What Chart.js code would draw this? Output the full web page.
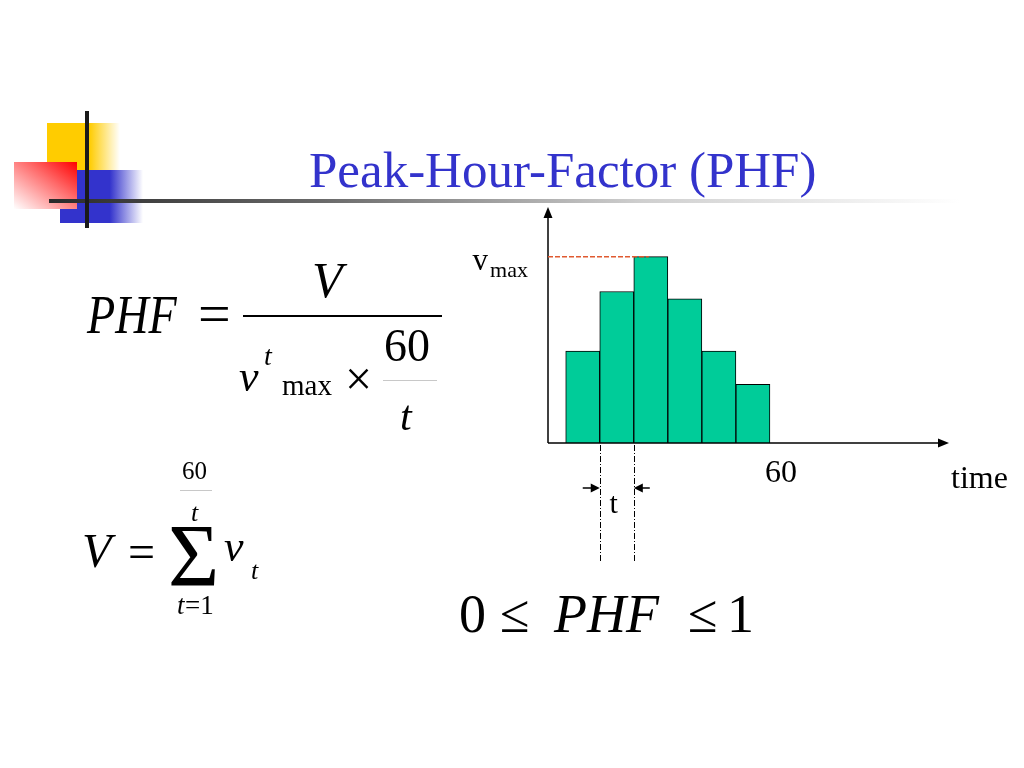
<!DOCTYPE html>
<html>
<head>
<meta charset="utf-8">
<script src="https://cdn.jsdelivr.net/npm/chart.js@4/dist/chart.umd.min.js"></script>
<style>
html,body{margin:0;padding:0;background:#fff;}
#slide{position:relative;width:1024px;height:768px;overflow:hidden;background:#fff;font-family:'Liberation Serif','Times New Roman',serif;color:#000;}
#slide .tx{position:absolute;white-space:nowrap;line-height:1;}
#slide .deco{position:absolute;}
#c{position:absolute;left:0;top:0;}
</style>
</head>
<body>
<div id="slide">
  <div class="deco" style="left:47px;top:123px;width:73px;height:47px;background:linear-gradient(to right,#ffcc00 0%,#ffcc00 58%,rgba(255,204,0,0) 100%)"></div>
  <div class="deco" style="left:60px;top:170px;width:83px;height:53px;background:linear-gradient(to right,#3333cc 0%,#3333cc 60%,rgba(51,51,204,0) 100%)"></div>
  <div class="deco" style="left:14px;top:162px;width:63px;height:47px;background:linear-gradient(to bottom left,#ff0000 0%,#ff6a6a 40%,#ffffff 100%)"></div>
  <div class="deco" style="left:49px;top:199px;width:911px;height:4px;background:linear-gradient(to right,#2a2a2a 0%,#6a6a6a 30%,#cfcfcf 65%,#ffffff 100%)"></div>
  <div class="deco" style="left:85px;top:111px;width:4px;height:117px;background:#1a1a1a"></div>
  <canvas id="c" width="1024" height="768"></canvas>
</div>
<script>
// ---- chart data ----
const intervalStartMin = [0, 10, 20, 30, 40, 50];      // start of each counting interval (minutes)
const intervalVolume   = [185, 305, 375, 290, 185, 118]; // volume counted in each interval
const intervalLength   = 10;                             // t (minutes)
const hourLength       = 60;                             // end of the hour
const hourTickLabel    = '60';
const xAxisTitle       = 'time';
const intervalLabel    = 't';
const peakLabelMain    = 'v';
const peakLabelSub     = 'max';

// ---- slide text (real DOM text) ----
const slide = document.getElementById('slide');
function put(txt, x, base, size, italic, extra) {
  const s = document.createElement('span');
  s.className = 'tx';
  s.textContent = txt;
  s.style.left = x + 'px';
  s.style.top = (base - 0.8375 * size) + 'px';
  s.style.fontSize = size + 'px';
  s.style.fontStyle = italic ? 'italic' : 'normal';
  if (extra) s.style.cssText += extra;
  slide.appendChild(s);
  return s;
}
function rule(x, y, w, h, col) {
  const d = document.createElement('div');
  d.className = 'deco';
  d.style.cssText += `left:${x}px;top:${y}px;width:${w}px;height:${h}px;background:${col}`;
  slide.appendChild(d);
}
put('Peak-Hour-Factor (PHF)', 309, 188, 51, false, 'color:#3333cc');

// PHF = V / (v^t_max × 60/t)
put('PHF', 87, 333, 55, true, 'transform:scaleX(0.84);transform-origin:left center');
put('=', 198, 334, 58, false);
rule(243, 315, 199, 2, '#000');
put('V', 312, 297, 50, true);
put('v', 239, 392, 44, true);
put('t', 264, 365, 28, true);
put('max', 282, 395, 29, false);
put('\u00D7', 345, 395, 48, false);
put('60', 384, 362, 46, false);
rule(383, 380, 54, 1, '#c8c8c8');
put('t', 400, 430, 42, true);

// V = sum_{t=1}^{60/t} v_t
put('60', 182, 479, 25, false);
rule(180, 490, 32, 1, '#c8c8c8');
put('t', 191, 522, 26, true);
put('\u03A3', 168, 586, 88, false);
put('V', 82, 567, 48, true);
put('=', 128, 568, 48, false);
put('v', 224, 562, 44, true);
put('t', 251, 580, 26, true);
put('t', 177, 615, 27, true);
put('=1', 185, 615, 27, false);

// 0 <= PHF <= 1
put('0', 459, 632, 54, false);
put('\u2264', 500, 632, 54, false);
put('PHF', 554, 632, 54, true);
put('\u2264', 688, 632, 54, false);
put('1', 727, 632, 54, false);

// ---- chart ----
const FONT = "'Liberation Serif','Times New Roman',serif";
const annot = {
  id: 'annot',
  afterDraw(chart) {
    const {ctx, chartArea: a, scales: {x, y}} = chart;
    ctx.save();
    ctx.fillStyle = '#000';
    ctx.strokeStyle = '#000';
    ctx.lineWidth = 1.5;
    // y axis with arrow
    ctx.beginPath(); ctx.moveTo(a.left, a.bottom); ctx.lineTo(a.left, a.top + 9); ctx.stroke();
    ctx.beginPath(); ctx.moveTo(a.left, a.top); ctx.lineTo(a.left - 4.5, a.top + 11); ctx.lineTo(a.left + 4.5, a.top + 11); ctx.closePath(); ctx.fill();
    // x axis with arrow
    ctx.beginPath(); ctx.moveTo(a.left, a.bottom); ctx.lineTo(a.right - 9, a.bottom); ctx.stroke();
    ctx.beginPath(); ctx.moveTo(a.right, a.bottom); ctx.lineTo(a.right - 11, a.bottom - 4.5); ctx.lineTo(a.right - 11, a.bottom + 4.5); ctx.closePath(); ctx.fill();

    // v_max dashed reference
    let pk = 0;
    intervalVolume.forEach((v, i) => { if (v > intervalVolume[pk]) pk = i; });
    const yv = y.getPixelForValue(intervalVolume[pk]);
    const xEnd = x.getPixelForValue(intervalStartMin[pk] + intervalLength / 2) - 2;
    ctx.strokeStyle = '#e05a30';
    ctx.lineWidth = 1.5;
    ctx.setLineDash([5, 2]);
    ctx.beginPath(); ctx.moveTo(a.left, yv); ctx.lineTo(xEnd, yv); ctx.stroke();
    ctx.setLineDash([]);

    // v_max label
    ctx.fillStyle = '#000';
    ctx.textBaseline = 'alphabetic';
    ctx.textAlign = 'right';
    ctx.font = '22px ' + FONT;
    ctx.fillText(peakLabelSub, a.left - 20, yv + 20);
    const subW = ctx.measureText(peakLabelSub).width;
    ctx.font = '31px ' + FONT;
    ctx.fillText(peakLabelMain, a.left - 22 - subW, yv + 13);

    // 60 tick label and axis title
    ctx.textAlign = 'center';
    ctx.font = '32px ' + FONT;
    ctx.fillText(hourTickLabel, x.getPixelForValue(hourLength) + 11, a.bottom + 39);
    ctx.textAlign = 'left';
    ctx.fillText(xAxisTitle, a.right + 2, a.bottom + 45);

    // interval dimension t
    const x1 = x.getPixelForValue(intervalStartMin[1]);
    const x2 = x.getPixelForValue(intervalStartMin[2]);
    ctx.strokeStyle = '#000';
    ctx.lineWidth = 1;
    ctx.setLineDash([6, 2, 1, 2]);
    [x1, x2].forEach(px => {
      ctx.beginPath(); ctx.moveTo(Math.round(px) + 0.5, a.bottom + 2); ctx.lineTo(Math.round(px) + 0.5, a.bottom + 119); ctx.stroke();
    });
    ctx.setLineDash([]);
    const ya = a.bottom + 45;
    ctx.lineWidth = 1.5;
    ctx.beginPath(); ctx.moveTo(x1 - 17, ya); ctx.lineTo(x1 - 7, ya); ctx.stroke();
    ctx.beginPath(); ctx.moveTo(x1, ya); ctx.lineTo(x1 - 9, ya - 4.5); ctx.lineTo(x1 - 9, ya + 4.5); ctx.closePath(); ctx.fill();
    ctx.beginPath(); ctx.moveTo(x2 + 16, ya); ctx.lineTo(x2 + 7, ya); ctx.stroke();
    ctx.beginPath(); ctx.moveTo(x2, ya); ctx.lineTo(x2 + 9, ya - 4.5); ctx.lineTo(x2 + 9, ya + 4.5); ctx.closePath(); ctx.fill();
    ctx.font = '30px ' + FONT;
    ctx.textAlign = 'center';
    ctx.fillText(intervalLabel, (x1 + x2) / 2 - 3, a.bottom + 70);
    ctx.restore();
  }
};

new Chart(document.getElementById('c'), {
  type: 'bar',
  data: {
    datasets: [{
      label: 'volume',
      data: intervalStartMin.map((s, i) => ({x: s + intervalLength / 2, y: intervalVolume[i]})),
      backgroundColor: '#00cc99',
      borderColor: '#000000',
      borderWidth: 1,
      barPercentage: 1,
      categoryPercentage: 1
    }]
  },
  options: {
    responsive: false,
    animation: false,
    events: [],
    layout: {padding: {left: 548, right: 75, top: 207, bottom: 325}},
    plugins: {legend: {display: false}, title: {display: false}, tooltip: {enabled: false}},
    scales: {
      x: {type: 'linear', min: -5.2, max: 112.6, offset: false, display: false,
          ticks: {stepSize: 10, includeBounds: false}, grid: {display: false}},
      y: {min: 0, max: 475, display: false, grid: {display: false}}
    }
  },
  plugins: [annot]
});
</script>
</body>
</html>
